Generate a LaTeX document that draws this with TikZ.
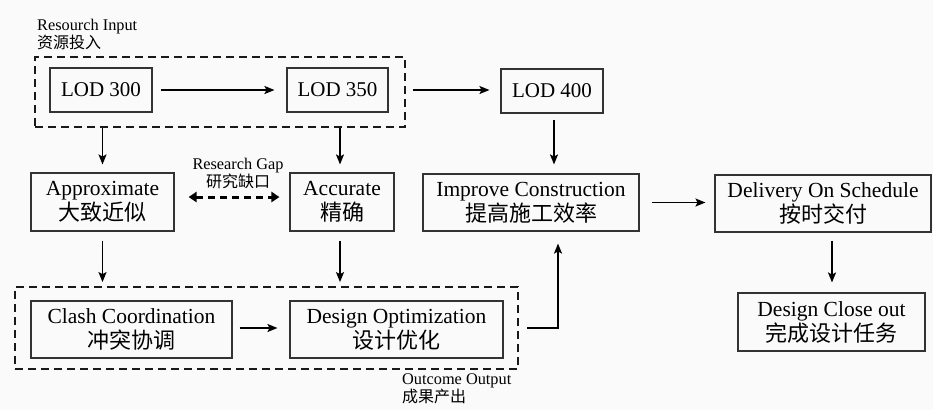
\documentclass[tikz,border=0pt]{standalone}
\usepackage{fontspec}
\setmainfont{Liberation Serif}
\newfontfamily\cjk{Noto Sans CJK SC}
\usetikzlibrary{arrows.meta}
\begin{document}
\begin{tikzpicture}[x=1pt,y=-1pt,
  box/.style={draw=black!80, line width=1.1pt, inner sep=0pt, align=center,
    font=\fontsize{21.5}{25}\selectfont},
  grp/.style={draw=black!90, line width=1.8pt, dash pattern=on 8pt off 5pt, inner sep=0pt},
  arr/.style={-{Stealth[length=10pt,width=8pt,inset=2pt]}, line width=1.6pt},
  gaparr/.style={{Triangle[length=8pt,width=10pt]}-{Triangle[length=8pt,width=10pt]},
    line width=3pt, dash pattern=on 7pt off 5pt},
  lbl/.style={inner sep=0pt, font=\fontsize{16.3}{18}\selectfont}]
\useasboundingbox[fill=black!2] (0,0) rectangle (933,410);

% groups
\node[grp, minimum width=370pt, minimum height=70pt] (ingroup) at (220,92) {};
\node[grp, minimum width=503pt, minimum height=82pt] (outgroup) at (266.5,328) {};

% boxes
\node[box, minimum width=102pt, minimum height=44pt, font=\fontsize{21}{25}\selectfont] (lod300) at (101,90) {LOD 300};
\node[box, minimum width=101pt, minimum height=44pt, font=\fontsize{21}{25}\selectfont] (lod350) at (337.5,90) {LOD 350};
\node[box, minimum width=102pt, minimum height=44pt, font=\fontsize{21}{25}\selectfont] (lod400) at (552,91) {LOD 400};
\node[box, minimum width=143pt, minimum height=58pt] (approx) at (102.5,202)
  {Approximate\\{\cjk\fontsize{22}{25}\selectfont 大致近似}};
\node[box, minimum width=104pt, minimum height=58pt] (accurate) at (342,202)
  {Accurate\\{\cjk\fontsize{22}{25}\selectfont 精确}};
\node[box, minimum width=216pt, minimum height=57pt] (improve) at (531,202.5)
  {Improve Construction\\{\cjk\fontsize{22}{25}\selectfont 提高施工效率}};
\node[box, minimum width=216pt, minimum height=57pt] (delivery) at (823,203.5)
  {Delivery On Schedule\\{\cjk\fontsize{22}{25}\selectfont 按时交付}};
\node[box, minimum width=201pt, minimum height=57pt] (clash) at (131.5,329.5)
  {Clash Coordination\\{\cjk\fontsize{22}{25}\selectfont 冲突协调}};
\node[box, minimum width=213pt, minimum height=57pt] (designopt) at (396.5,329.5)
  {Design Optimization\\{\cjk\fontsize{22}{25}\selectfont 设计优化}};
\node[box, minimum width=187pt, minimum height=58pt] (closeout) at (831.5,322)
  {Design Close out\\{\cjk\fontsize{22}{25}\selectfont 完成设计任务}};

% labels
\node[lbl, anchor=west, align=left] (inlabel) at (37,34)
  {Resourch Input\\{\cjk\fontsize{16}{18}\selectfont 资源投入}};
\node[lbl, align=center] (gaplabel) at (238,173.5)
  {Research Gap\\{\cjk\fontsize{16}{18}\selectfont 研究缺口}};
\node[lbl, anchor=west, align=left] (outlabel) at (402,388.5)
  {Outcome Output\\{\cjk\fontsize{16}{18}\selectfont 成果产出}};

% connectors
\draw[arr, shorten <=8pt, shorten >=12pt] (lod300.east) -- (lod300.east -| lod350.west);
\draw[arr, shorten <=24pt, shorten >=11pt] (lod350.east) -- (lod350.east -| lod400.west);
\draw[arr, shorten <=6pt, shorten >=9pt] ([xshift=2pt]lod400.south) -- ([xshift=2pt]lod400.south |- improve.north);
\draw[arr, shorten >=8pt] (ingroup.south -| approx.north) -- (approx.north);
\draw[arr, shorten >=8pt] ([xshift=-2pt]ingroup.south -| accurate.north) -- ([xshift=-2pt]accurate.north);
\draw[arr, shorten <=9pt, shorten >=4pt] (approx.south) -- (approx.south |- outgroup.north);
\draw[arr, shorten <=9pt, shorten >=4pt] ([xshift=-2pt]accurate.south) -- ([xshift=-2pt]accurate.south |- outgroup.north);
\draw[gaparr, shorten <=14pt, shorten >=10pt] ([yshift=5pt]approx.east) -- ([yshift=5pt]approx.east -| accurate.west);
\draw[arr, shorten <=7pt, shorten >=12pt] (clash.east |- outgroup.east) -- (outgroup.east -| designopt.west);
\draw[arr, line cap=rect, shorten <=9pt, shorten >=12pt] (outgroup.east) -| ([xshift=27pt]improve.south);
\draw[arr, shorten <=12pt, shorten >=9pt] (improve.east) -- (improve.east -| delivery.west);
\draw[arr, shorten <=8pt, shorten >=10pt] ([xshift=9pt]delivery.south) -- ([xshift=9pt]delivery.south |- closeout.north);
\end{tikzpicture}
\end{document}
